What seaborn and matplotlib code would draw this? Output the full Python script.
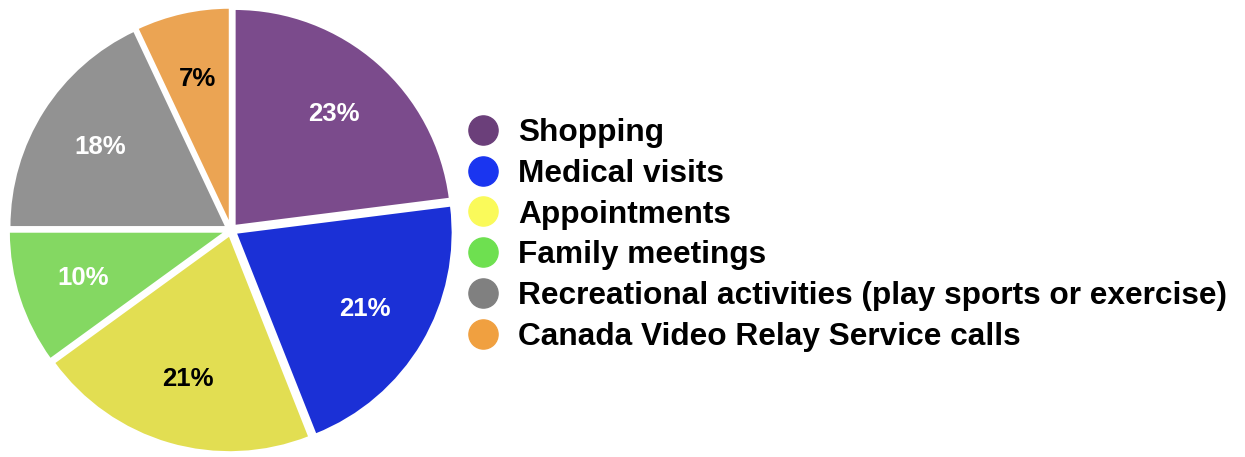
import matplotlib
matplotlib.use("Agg")
import matplotlib.pyplot as plt
from matplotlib.lines import Line2D
import seaborn as sns

categories = ["Shopping", "Medical visits", "Appointments", "Family meetings",
              "Recreational activities (play sports or exercise)",
              "Canada Video Relay Service calls"]
values = [23, 21, 21, 10, 18, 7]
pie_colors = ["#7b4b8c", "#1b30d6", "#e2de52", "#84d862", "#929292", "#eba453"]
legend_colors = ["#6b3f7a", "#1a35f0", "#fafa5a", "#6ee050", "#808080", "#f0a040"]
label_colors = ["white", "white", "black", "white", "white", "black"]

sns.set_theme(style="white")
plt.rcParams["font.family"] = ["Liberation Sans", "DejaVu Sans"]

fig = plt.figure(figsize=(12.45, 4.57), dpi=100)
cx, cy, half = 231, 230, 227
W, H = 1245, 457
ax = fig.add_axes([(cx - half) / W, (H - cy - half) / H, 2 * half / W, 2 * half / H])
r_px = 217
lim = half / r_px

wedges, texts, autotexts = ax.pie(
    values, colors=pie_colors, startangle=90, counterclock=False,
    explode=[0.025] * len(values), autopct="%d%%", pctdistance=0.69,
    wedgeprops=dict(edgecolor="white", linewidth=1.5),
    textprops=dict(fontsize=18.5, fontweight="bold"))
for t, c in zip(autotexts, label_colors):
    t.set_color(c)
ax.set_xlim(-lim, lim)
ax.set_ylim(-lim, lim)
ax.set_aspect("equal")
ax.axis("off")

handles = [Line2D([0], [0], marker="o", linestyle="", markersize=21,
                  markerfacecolor=c, markeredgecolor=c) for c in legend_colors]
leg = fig.legend(handles, categories, loc="upper left",
                 bbox_to_anchor=(466 / W, (H - 118) / H), frameon=False,
                 prop=dict(size=22.8, weight="bold"),
                 handlelength=1.05, handletextpad=0.6, labelspacing=0.34,
                 borderpad=0, borderaxespad=0)
for t in leg.get_texts():
    t.set_color("black")

fig.savefig("out.png", dpi=100)
